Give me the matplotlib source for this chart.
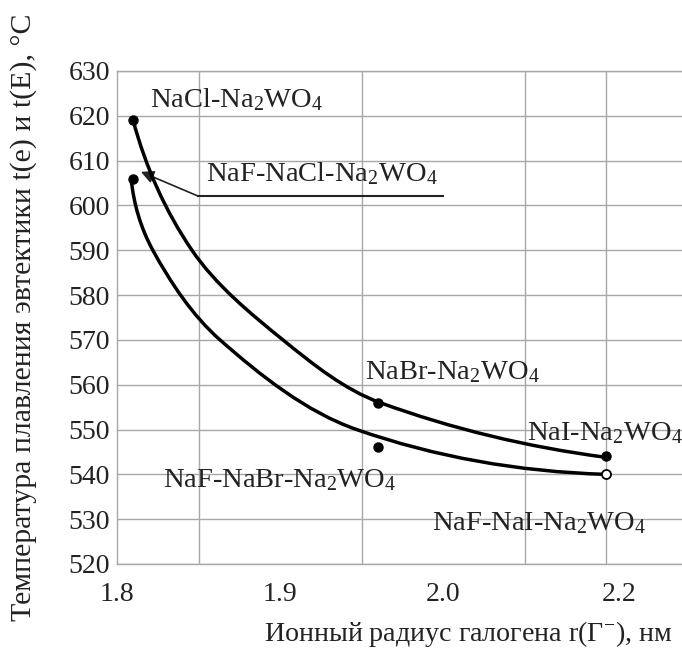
import numpy as np
import matplotlib
matplotlib.use('Agg')
import matplotlib.pyplot as plt
from matplotlib.path import Path
from matplotlib.patches import PathPatch

plt.rcParams['font.family'] = ['Liberation Serif', 'DejaVu Serif']
plt.rcParams['mathtext.fontset'] = 'custom'
plt.rcParams['mathtext.rm'] = 'Liberation Serif'
plt.rcParams['mathtext.default'] = 'regular'

# точки (радиус на оси, температура)
pts_x = [1.81, 1.96, 2.10]
upper_pts = [619, 556, 544]      # NaCl, NaBr, NaI - Na2WO4
lower_pts = [606, 546, 540]      # NaF-... - Na2WO4

# опорные точки кривых
upper_x = [1.8098, 1.846, 1.9018, 1.9614, 2.10]
upper_y = [619.1, 590, 570, 556, 543.8]
lower_x = [1.8086, 1.822, 1.8632, 1.947, 2.10]
lower_y = [606.2, 590, 570, 550, 540]

xtick_pos = [1.8, 1.9, 2.0, 2.108]
xtick_labels = ['1.8', '1.9', '2.0', '2.2']
yticks = list(range(520, 631, 10))

ink = '#222222'
grid_c = '#a8a8a8'


def smooth_path(xs, ys, scale=(1630.0, 4.48)):
    # гладкая кривая через опорные точки (хордовая параметризация)
    s = np.array(scale)
    q = np.column_stack([xs, ys]) * s
    d = np.linalg.norm(np.diff(q, axis=0), axis=1)
    m = np.zeros_like(q)
    for i in range(1, len(q) - 1):
        m[i] = (q[i + 1] - q[i - 1]) / (d[i - 1] + d[i])
    m[0] = 2 * (q[1] - q[0]) / d[0] - m[1]
    m[-1] = 2 * (q[-1] - q[-2]) / d[-1] - m[-2]
    verts = [q[0]]
    codes = [Path.MOVETO]
    for i in range(len(q) - 1):
        verts += [q[i] + m[i] * d[i] / 3, q[i + 1] - m[i + 1] * d[i] / 3, q[i + 1]]
        codes += [Path.CURVE4] * 3
    return Path(np.array(verts) / s, codes)


fig = plt.figure(figsize=(6.82, 6.52), dpi=100)
ax = fig.add_axes([117/682, 88/652, 1 - 117/682, (564 - 71)/652])

ax.set_xlim(1.8, 2.1466)
ax.set_ylim(520, 630)

ax.set_xticks(xtick_pos)
ax.set_xticklabels(xtick_labels)
ax.set_xticks(np.arange(1.8, 2.14, 0.05), minor=True)
ax.set_yticks(yticks)
ax.tick_params(axis='x', which='both', length=0, pad=13, labelsize=20, colors=ink)
ax.tick_params(axis='y', which='both', length=0, pad=5, labelsize=20, colors=ink)
ax.grid(False)
ax.grid(True, axis='x', which='minor', color=grid_c, lw=1)
ax.grid(True, axis='y', which='major', color=grid_c, lw=1)
for s in ['left', 'bottom', 'top']:
    ax.spines[s].set_color(grid_c)
    ax.spines[s].set_linewidth(1)
ax.spines['right'].set_visible(False)

for xs, ys in [(upper_x, upper_y), (lower_x, lower_y)]:
    ax.add_patch(PathPatch(smooth_path(xs, ys), fill=False, edgecolor='black',
                           lw=2.5, capstyle='round', zorder=3))
ax.plot(pts_x, upper_pts, 'o', color='black', ms=6.5, zorder=4)
ax.plot(pts_x[:2], lower_pts[:2], 'o', color='black', ms=6.5, zorder=4)
ax.plot(pts_x[2:], lower_pts[2:], 'o', mfc='white', mec='black', mew=1.3, ms=6.5, zorder=4)

fs = 20.5
ax.text(1.8202, 623.6, 'NaCl-Na$_2$WO$_4$', fontsize=fs, color=ink, va='center')
ax.text(1.8546, 607.1, 'NaF-NaCl-Na$_2$WO$_4$', fontsize=fs, color=ink, va='center')
ax.text(1.9522, 562.9, 'NaBr-Na$_2$WO$_4$', fontsize=fs, color=ink, va='center')
ax.text(2.0515, 549.2, 'NaI-Na$_2$WO$_4$', fontsize=fs, color=ink, va='center')
ax.text(1.8282, 538.75, 'NaF-NaBr-Na$_2$WO$_4$', fontsize=fs, color=ink, va='center')
ax.text(1.9933, 529.2, 'NaF-NaI-Na$_2$WO$_4$', fontsize=fs, color=ink, va='center')

# выноска к нижней кривой
ax.plot([1.8497, 2.0], [602.1, 602.1], color=ink, lw=1.5, zorder=2)
ax.annotate('', xy=(1.8147, 607.5), xytext=(1.8497, 602.1),
            arrowprops=dict(arrowstyle='-|>', color=ink, lw=1.2, mutation_scale=19,
                            shrinkA=0, shrinkB=0), zorder=2)

fig.text(672/682, 1 - 634/652, 'Ионный радиус галогена r(Г$^{-}$), нм',
         fontsize=20.2, color=ink, ha='right', va='center')
fig.text(24/682, 1 - 317/652, 'Температура плавления эвтектики t(e) и t(E), °C',
         fontsize=21.5, color=ink, ha='center', va='center', rotation=90)

fig.savefig('out.png', dpi=100)
